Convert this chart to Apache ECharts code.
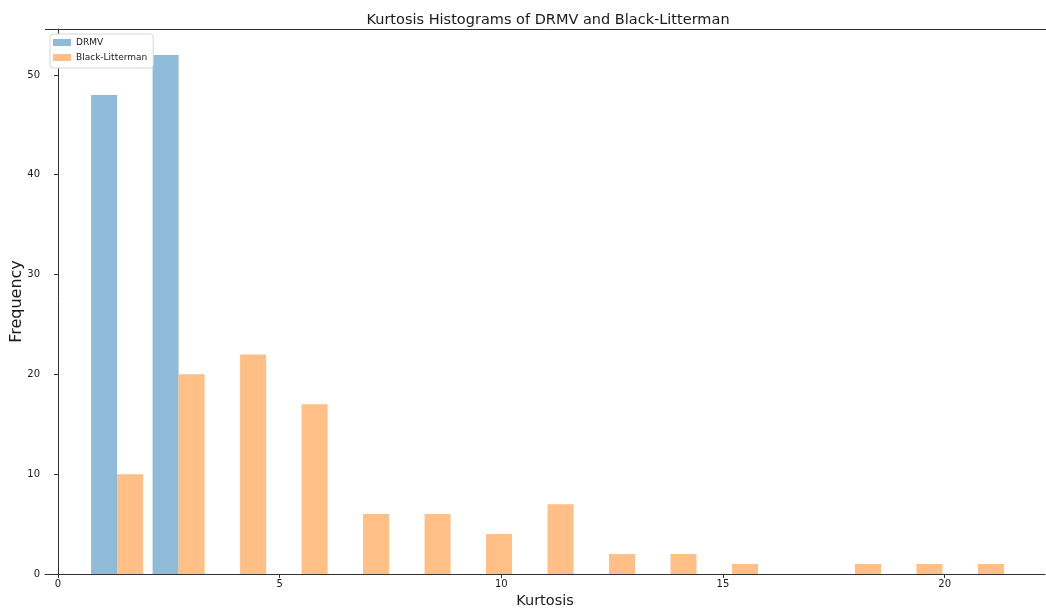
<!DOCTYPE html>
<html>
<head>
<meta charset="utf-8">
<script src="https://cdn.jsdelivr.net/npm/echarts@6/dist/echarts.min.js"></script>
<style>
  html, body { margin: 0; padding: 0; background: #fff; }
  #chart { width: 1046px; height: 609px; }
</style>
</head>
<body>
<div id="chart"></div>
<script>
// Shared histogram bin edges (15 bins) for kurtosis values
const binEdges = [0.640, 2.027, 3.414, 4.801, 6.188, 7.575, 8.962, 10.349,
                  11.736, 13.123, 14.510, 15.897, 17.284, 18.671, 20.058, 21.445];
// Frequency per bin
const drmvCounts = [48, 52, 0, 0, 0, 0, 0, 0, 0, 0, 0, 0, 0, 0, 0];
const blCounts   = [10, 20, 22, 17, 6, 6, 4, 7, 2, 2, 1, 0, 1, 1, 1];
const xTicks = [0, 5, 10, 15, 20];
const yTicks = [0, 10, 20, 30, 40, 50];

const barFrac = 0.423; // each bar's share of a bin width

function buildBars(counts, side) {
  const out = [];
  for (let i = 0; i < counts.length; i++) {
    if (!counts[i]) continue;
    const lo = binEdges[i], hi = binEdges[i + 1];
    const mid = (lo + hi) / 2;
    const w = (hi - lo) * barFrac;
    const l = side < 0 ? mid - w : mid;
    out.push([l, l + w, counts[i]]);
  }
  return out;
}

function renderBar(params, api) {
  const p0 = api.coord([api.value(0), 0]);
  const p1 = api.coord([api.value(1), api.value(2)]);
  return {
    type: 'rect',
    shape: { x: p0[0], y: p1[1], width: p1[0] - p0[0], height: p0[1] - p1[1] },
    style: { fill: api.visual('color') }
  };
}

const font = 'DejaVu Sans';
const chart = echarts.init(document.getElementById('chart'), null, { renderer: 'canvas' });
chart.setOption({
  animation: false,
  backgroundColor: '#fff',
  title: {
    text: 'Kurtosis Histograms of DRMV and Black-Litterman',
    left: 543, top: 8, textAlign: 'center',
    textStyle: { fontFamily: font, fontSize: 14.5, fontWeight: 'normal', color: '#1a1a1a' }
  },
  legend: {
    left: 50, top: 34, orient: 'vertical',
    icon: 'rect', itemWidth: 18, itemHeight: 7, itemGap: 6,
    padding: [4, 6, 6, 3],
    backgroundColor: '#fff', borderColor: '#d6d6d6', borderWidth: 1, borderRadius: 3,
    textStyle: { fontFamily: font, fontSize: 9, color: '#1a1a1a' },
    data: ['DRMV', 'Black-Litterman']
  },
  grid: { left: 45, right: 1, top: 29, bottom: 35, containLabel: false, outerBoundsMode: 'none' },
  xAxis: {
    type: 'value', min: -0.293, max: 22.264,
    name: 'Kurtosis', nameLocation: 'middle', nameGap: 20, nameMoveOverlap: false,
    nameTextStyle: { fontFamily: font, fontSize: 14.5, color: '#1a1a1a' },
    axisLine: { show: true, onZero: false, lineStyle: { color: '#333', width: 1 } },
    axisTick: { show: true, length: 4, lineStyle: { color: '#333' },
      customValues: xTicks },
    axisLabel: { fontFamily: font, fontSize: 10, color: '#1a1a1a', margin: 5,
      customValues: xTicks, showMinLabel: true, showMaxLabel: true },
    splitLine: { show: false }
  },
  yAxis: {
    type: 'value', min: 0, max: 54.6,
    name: 'Frequency', nameLocation: 'middle', nameGap: 20, nameRotate: 90,
    nameMoveOverlap: false,
    nameTextStyle: { fontFamily: font, fontSize: 16, color: '#1a1a1a' },
    axisLine: { show: true, lineStyle: { color: '#333', width: 1 } },
    axisTick: { show: true, length: 4, lineStyle: { color: '#333' },
      customValues: yTicks },
    axisLabel: { fontFamily: font, fontSize: 10, color: '#1a1a1a', margin: 5,
      customValues: yTicks },
    splitLine: { show: false }
  },
  graphic: [{
    type: 'line', z: 10,
    shape: { x1: 45, y1: 29.5, x2: 1046, y2: 29.5 },
    style: { stroke: '#333', lineWidth: 1 }
  }],
  series: [
    {
      name: 'DRMV', type: 'custom', renderItem: renderBar,
      itemStyle: { color: '#8fbbd9' },
      encode: { x: [0, 1], y: 2 },
      data: buildBars(drmvCounts, -1)
    },
    {
      name: 'Black-Litterman', type: 'custom', renderItem: renderBar,
      itemStyle: { color: '#ffbf86' },
      encode: { x: [0, 1], y: 2 },
      data: buildBars(blCounts, 1)
    }
  ]
});
</script>
</body>
</html>
